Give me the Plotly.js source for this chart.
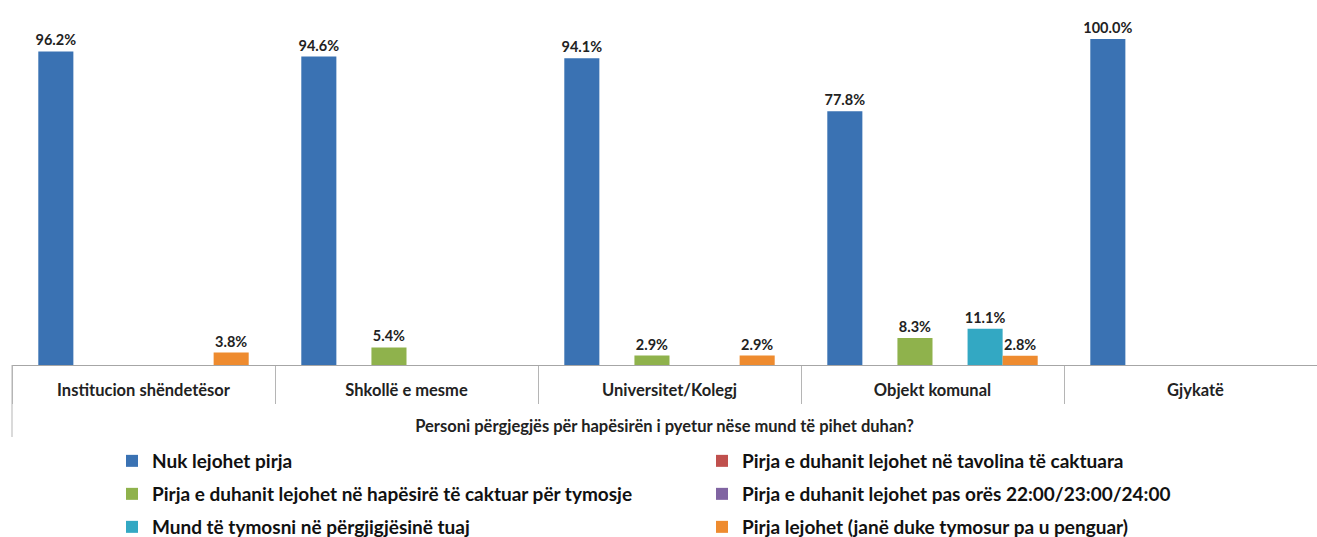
<!DOCTYPE html>
<html>
<head>
<meta charset="utf-8">
<script src="https://cdn.plot.ly/plotly-3.0.1.min.js"></script>
<style>html,body{margin:0;padding:0;overflow:hidden;background:#fff}</style>
</head>
<body>
<div id="chart" style="width:1317px;height:537px"></div>
<script>
const categories = ['Institucion shëndetësor', 'Shkollë e mesme', 'Universitet/Kolegj', 'Objekt komunal', 'Gjykatë'];
const seriesNames = [
  'Nuk lejohet pirja',
  'Pirja e duhanit lejohet në tavolina të caktuara',
  'Pirja e duhanit lejohet në hapësirë të caktuar për tymosje',
  'Pirja e duhanit lejohet pas orës 22:00/23:00/24:00',
  'Mund të tymosni në përgjigjësinë tuaj',
  'Pirja lejohet (janë duke tymosur pa u penguar)'
];
const nukLejohet   = [96.2, 94.6, 94.1, 77.8, 100.0];
const tavolina     = [0, 0, 0, 0, 0];
const hapesire     = [0, 5.4, 2.9, 8.3, 0];
const pasOres      = [0, 0, 0, 0, 0];
const pergjegjesi  = [0, 0, 0, 11.1, 0];
const lejohet      = [3.8, 0, 2.9, 2.8, 0];
const axisTitle = 'Personi përgjegjës për hapësirën i pyetur nëse mund të pihet duhan?';

const seriesValues = [nukLejohet, tavolina, hapesire, pasOres, pergjegjesi, lejohet];
const colors = ['#3A72B3', '#C0504D', '#8FB24C', '#8064A2', '#33A8C3', '#EE8B2F'];

const FONT = 'Lato, "Open Sans", sans-serif';

// layout geometry
const W = 1317, H = 537, mt = 6, mb = 172, ml = 12, mr = 0;
const plotH = H - mt - mb;
const plotW = W - ml - mr;
const axisY = H - mb;
const catPx = 263;
const pxToPaperX = px => (px - ml) / plotW;
const pxToPaperY = py => (axisY - py) / plotH;

// legend slots: two columns, three rows (text start x, row centre y)
const legendColX = [152, 742];
const legendRowY = [461, 494, 527];

const legendIds = seriesNames.map((_, i) => i === 0 ? 'legend' : 'legend' + (i + 1));

const traces = seriesValues.map((vals, i) => ({
  type: 'bar',
  name: seriesNames[i],
  x: categories,
  y: vals,
  legend: legendIds[i],
  text: vals.map(v => v ? v.toFixed(1) + '%' : ''),
  textposition: 'outside',
  constraintext: 'none',
  cliponaxis: false,
  textfont: {family: FONT, size: 14.5, color: '#222', weight: 'bold'},
  marker: {color: colors[i], line: {width: 0}},
  hoverinfo: 'x+y+name'
}));

const layout = {
  width: W, height: H,
  margin: {t: mt, b: mb, l: ml, r: mr, pad: 0, autoexpand: false},
  paper_bgcolor: '#fff', plot_bgcolor: '#fff',
  barmode: 'group', bargap: 0.2, bargroupgap: 0,
  showlegend: true,
  font: {family: FONT, color: '#222'},
  xaxis: {
    type: 'category',
    automargin: false,
    range: [-0.5, -0.5 + plotW / catPx],
    showline: true, linecolor: '#a6a6a6', linewidth: 1,
    ticks: 'outside', tickson: 'boundaries', ticklen: 38, tickcolor: '#b5b5b5', tickwidth: 1,
    ticklabelstandoff: 10,
    tickfont: {family: FONT, size: 16.5, color: '#222', weight: 'bold'},
    showgrid: false, zeroline: false,
    title: {text: axisTitle, font: {family: FONT, size: 16.5, color: '#222', weight: 'bold'}, standoff: 21}
  },
  yaxis: {
    range: [0, 100 * plotH / 326],
    visible: false, showgrid: false, zeroline: false
  },
  shapes: [{
    type: 'line', xref: 'paper', yref: 'paper',
    x0: 0, x1: 0, y0: 0, y1: pxToPaperY(437),
    line: {color: '#b5b5b5', width: 1}
  }]
};

legendIds.forEach((id, i) => {
  const col = i % 2, row = Math.floor(i / 2);
  layout[id] = {
    x: pxToPaperX(legendColX[col] - 40), xanchor: 'left',
    y: pxToPaperY(legendRowY[row]), yanchor: 'middle',
    font: {family: FONT, size: 19, color: '#111', weight: 'bold'},
    bgcolor: 'rgba(0,0,0,0)', borderwidth: 0
  };
});

Plotly.newPlot('chart', traces, layout, {displayModeBar: false, staticPlot: true});
</script>
</body>
</html>
